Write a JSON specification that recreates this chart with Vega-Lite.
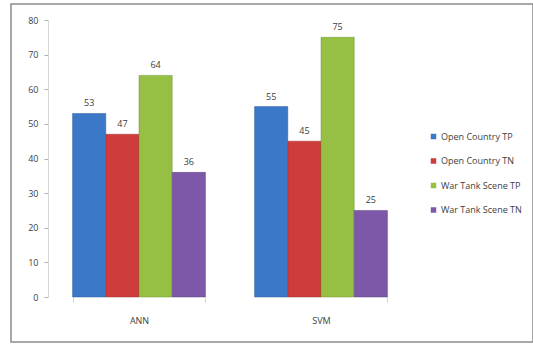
{
  "$schema": "https://vega.github.io/schema/vega-lite/v6.json",
  "width": 522,
  "height": 338,
  "autosize": "none",
  "padding": {"left": 11, "top": 4, "right": 0, "bottom": 1},
  "background": "white",
  "config": {
    "view": {"stroke": "#8c8c8c", "strokeWidth": 1.5},
    "font": "Open Sans"
  },
  "data": {
    "values": [
      {"method": "ANN", "series": "Open Country TP", "value": 53},
      {"method": "ANN", "series": "Open Country TN", "value": 47},
      {"method": "ANN", "series": "War Tank Scene TP", "value": 64},
      {"method": "ANN", "series": "War Tank Scene TN", "value": 36},
      {"method": "SVM", "series": "Open Country TP", "value": 55},
      {"method": "SVM", "series": "Open Country TN", "value": 45},
      {"method": "SVM", "series": "War Tank Scene TP", "value": 75},
      {"method": "SVM", "series": "War Tank Scene TN", "value": 25}
    ]
  },
  "encoding": {
    "x": {
      "field": "method",
      "type": "nominal",
      "sort": null,
      "scale": {"range": [37, 401], "paddingInner": 0.27, "paddingOuter": 0.135},
      "axis": {
        "title": null,
        "labelAngle": 0,
        "offset": -45,
        "domain": false,
        "tickBand": "extent",
        "tickColor": "#d0d0d0",
        "tickSize": 5,
        "labelPadding": 14,
        "labelFontSize": 9,
        "labelColor": "#404040"
      }
    },
    "xOffset": {
      "field": "series",
      "type": "nominal",
      "sort": null,
      "scale": {"paddingInner": 0, "paddingOuter": 0}
    },
    "y": {
      "field": "value",
      "type": "quantitative",
      "scale": {"domain": [0, 80], "range": [293, 16], "nice": false},
      "axis": {
        "title": null,
        "offset": -37,
        "values": [0, 10, 20, 30, 40, 50, 60, 70, 80],
        "grid": false,
        "domainColor": "#d6d6d6",
        "tickColor": "#b0b0b0",
        "tickSize": 4,
        "labelPadding": 6,
        "labelFontSize": 9,
        "labelColor": "#404040"
      }
    }
  },
  "layer": [
    {
      "mark": {"type": "bar", "strokeWidth": 0.8, "strokeOpacity": 0.6},
      "encoding": {
        "color": {
          "field": "series",
          "type": "nominal",
          "sort": null,
          "scale": {
            "domain": ["Open Country TP", "Open Country TN", "War Tank Scene TP", "War Tank Scene TN"],
            "range": ["#3B78C8", "#CE3D3B", "#95C043", "#7D58A8"]
          },
          "legend": {
            "title": null,
            "orient": "none",
            "legendX": 418,
            "legendY": 128,
            "symbolType": "square",
            "symbolSize": 30,
            "symbolStrokeWidth": 0,
            "labelFontSize": 9,
            "labelColor": "#404040",
            "labelOffset": 3,
            "rowPadding": 14.5
          }
        },
        "stroke": {
          "field": "series",
          "type": "nominal",
          "sort": null,
          "scale": {
            "domain": ["Open Country TP", "Open Country TN", "War Tank Scene TP", "War Tank Scene TN"],
            "range": ["#2a5a99", "#9a2b2a", "#6f9230", "#5b3f80"]
          },
          "legend": null
        }
      }
    },
    {
      "mark": {"type": "text", "dy": -10, "fontSize": 9, "color": "#404040"},
      "encoding": {"text": {"field": "value", "type": "quantitative"}}
    }
  ]
}
